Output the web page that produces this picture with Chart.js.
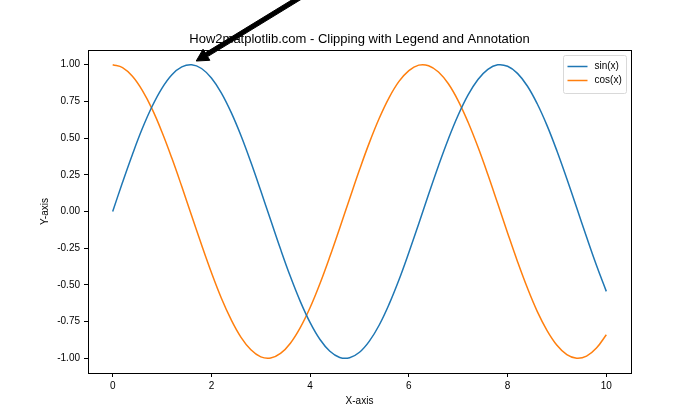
<!DOCTYPE html>
<html>
<head>
<meta charset="utf-8">
<script src="https://cdn.jsdelivr.net/npm/chart.js@4.4.0/dist/chart.umd.min.js"></script>
<style>
  html, body { margin: 0; padding: 0; background: #fff; }
  #wrap { width: 700px; height: 420px; }
</style>
</head>
<body>
<div id="wrap"><canvas id="chart" width="700" height="420"></canvas></div>
<script>
// values, x step 0.2
const xValues = [0, 0.2, 0.4, 0.6, 0.8, 1.0, 1.2, 1.4, 1.6, 1.8, 2.0, 2.2, 2.4, 2.6, 2.8, 3.0, 3.2, 3.4, 3.6, 3.8,
  4.0, 4.2, 4.4, 4.6, 4.8, 5.0, 5.2, 5.4, 5.6, 5.8, 6.0, 6.2, 6.4, 6.6, 6.8, 7.0, 7.2, 7.4, 7.6, 7.8,
  8.0, 8.2, 8.4, 8.6, 8.8, 9.0, 9.2, 9.4, 9.6, 9.8, 10.0];
const sinValues = [0, 0.199, 0.389, 0.565, 0.717, 0.841, 0.932, 0.985, 1.0, 0.974, 0.909, 0.808, 0.675, 0.516, 0.335,
  0.141, -0.058, -0.256, -0.443, -0.612, -0.757, -0.872, -0.952, -0.994, -0.996, -0.959, -0.883, -0.773, -0.631,
  -0.465, -0.279, -0.083, 0.117, 0.312, 0.494, 0.657, 0.794, 0.899, 0.968, 0.999, 0.989, 0.941, 0.855, 0.734,
  0.585, 0.412, 0.223, 0.025, -0.174, -0.366, -0.544];
const cosValues = [1.0, 0.98, 0.921, 0.825, 0.697, 0.54, 0.362, 0.17, -0.029, -0.227, -0.416, -0.589, -0.737, -0.857,
  -0.942, -0.99, -0.998, -0.967, -0.897, -0.791, -0.654, -0.49, -0.307, -0.112, 0.087, 0.284, 0.469, 0.635, 0.776,
  0.886, 0.96, 0.997, 0.993, 0.95, 0.87, 0.754, 0.608, 0.439, 0.252, 0.054, -0.146, -0.34, -0.52, -0.68, -0.811,
  -0.911, -0.975, -1.0, -0.985, -0.93, -0.839];
const xTicks = [0, 2, 4, 6, 8, 10];
const yTicks = [-1.0, -0.75, -0.5, -0.25, 0, 0.25, 0.5, 0.75, 1.0];
const seriesLabels = ["sin(x)", "cos(x)"];
const arrowPoint = { x: 1.5708, y: 1.0 };
const arrowFrom = { x: 4, y: 1.5 };

const FONT = "'Liberation Sans', Arial, sans-serif";
const BLUE = "#1f77b4";
const ORANGE = "#ff7f0e";

const toPoints = (ys) => ys.map((y, i) => ({ x: xValues[i], y }));

// box round the plot, legend, and the arrow on top
const decorations = {
  id: "decorations",
  afterDatasetsDraw(chart) {
    const { ctx, chartArea: a } = chart;
    ctx.save();
    ctx.strokeStyle = "#000";
    ctx.lineWidth = 1;
    ctx.strokeRect(Math.round(a.left) + 0.5, Math.round(a.top) + 0.5,
      Math.round(a.right - a.left), Math.round(a.bottom - a.top));

    // legend
    const bw = 63, bh = 38;
    const bx = Math.round(a.right) - 5 - bw + 0.5, by = Math.round(a.top) + 5 + 0.5;
    ctx.fillStyle = "rgba(255,255,255,0.8)";
    ctx.strokeStyle = "#d9d9d9";
    ctx.beginPath();
    ctx.roundRect(bx, by, bw, bh, 2);
    ctx.fill();
    ctx.stroke();
    const colors = [BLUE, ORANGE];
    ctx.font = "10px " + FONT;
    ctx.textBaseline = "middle";
    seriesLabels.forEach((lab, i) => {
      const ly = by + 11 + i * 14;
      ctx.strokeStyle = colors[i];
      ctx.lineWidth = 1.5;
      ctx.beginPath();
      ctx.moveTo(bx + 4, ly);
      ctx.lineTo(bx + 24, ly);
      ctx.stroke();
      ctx.fillStyle = "#000";
      ctx.fillText(lab, bx + 31, ly);
    });
    ctx.restore();
  },
  afterDraw(chart) {
    const { ctx, scales } = chart;
    const tx = scales.x.getPixelForValue(arrowPoint.x), ty = scales.y.getPixelForValue(arrowPoint.y);
    const fx = scales.x.getPixelForValue(arrowFrom.x), fy = scales.y.getPixelForValue(arrowFrom.y);
    const dx = tx - fx, dy = ty - fy;
    const len = Math.hypot(dx, dy);
    const ux = dx / len, uy = dy / len;
    const sx = fx + ux * len * 0.05, sy = fy + uy * len * 0.05;
    const ex = tx - ux * len * 0.05, ey = ty - uy * len * 0.05;
    const hl = 12, hw = 6.5, sw = 2.2;
    const nx = -uy, ny = ux;
    const bxp = ex - ux * hl, byp = ey - uy * hl;
    ctx.save();
    ctx.fillStyle = "#000";
    ctx.strokeStyle = "#000";
    ctx.lineWidth = 1;
    ctx.beginPath();
    ctx.moveTo(sx + nx * sw, sy + ny * sw);
    ctx.lineTo(bxp + nx * sw, byp + ny * sw);
    ctx.lineTo(bxp + nx * hw, byp + ny * hw);
    ctx.lineTo(ex, ey);
    ctx.lineTo(bxp - nx * hw, byp - ny * hw);
    ctx.lineTo(bxp - nx * sw, byp - ny * sw);
    ctx.lineTo(sx - nx * sw, sy - ny * sw);
    ctx.closePath();
    ctx.fill();
    ctx.stroke();
    ctx.restore();
  }
};

new Chart(document.getElementById("chart"), {
  type: "line",
  data: {
    datasets: [
      { label: seriesLabels[0], data: toPoints(sinValues), borderColor: BLUE, borderWidth: 1.5,
        pointRadius: 0, fill: false, tension: 0.4 },
      { label: seriesLabels[1], data: toPoints(cosValues), borderColor: ORANGE, borderWidth: 1.5,
        pointRadius: 0, fill: false, tension: 0.4 }
    ]
  },
  options: {
    responsive: false,
    animation: false,
    events: [],
    layout: { padding: { left: 39, right: 69, top: 32, bottom: 13 } },
    plugins: {
      legend: { display: false },
      tooltip: { enabled: false },
      title: {
        display: true,
        fullSize: false,
        text: "How2matplotlib.com - Clipping with Legend and Annotation",
        color: "#000",
        font: { family: FONT, size: 13, weight: "normal", lineHeight: 1.2 },
        padding: { top: 0, bottom: 2.4 }
      }
    },
    scales: {
      x: {
        type: "linear",
        min: -0.5,
        max: 10.5,
        afterBuildTicks: (s) => { s.ticks = xTicks.map((v) => ({ value: v })); },
        afterFit: (s) => { s.height = 34; },
        grid: { drawOnChartArea: false, drawTicks: true, tickLength: 4, color: "#000" },
        border: { display: false },
        ticks: { color: "#000", padding: 3, maxRotation: 0, font: { family: FONT, size: 10 } },
        title: { display: true, text: "X-axis", color: "#000", padding: { top: 4, bottom: 0 },
          font: { family: FONT, size: 10 } }
      },
      y: {
        type: "linear",
        min: -1.1,
        max: 1.1,
        afterBuildTicks: (s) => { s.ticks = yTicks.map((v) => ({ value: v })); },
        afterFit: (s) => { s.width = 49; },
        grid: { drawOnChartArea: false, drawTicks: true, tickLength: 4, color: "#000" },
        border: { display: false },
        ticks: { color: "#000", padding: 4, font: { family: FONT, size: 10 },
          callback: (v) => Number(v).toFixed(2) },
        title: { display: true, text: "Y-axis", color: "#000", padding: { top: 0, bottom: 4 },
          font: { family: FONT, size: 10 } }
      }
    }
  },
  plugins: [decorations]
});
</script>
</body>
</html>
